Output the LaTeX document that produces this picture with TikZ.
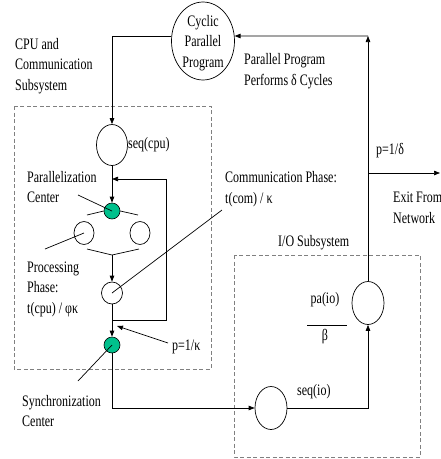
\documentclass[tikz,border=0pt]{standalone}
\usepackage{fontspec}
\setmainfont{Liberation Serif}[FakeStretch=0.75]
\usetikzlibrary{arrows.meta,shapes.geometric}
\definecolor{grn}{RGB}{0,192,140}
\begin{document}
\begin{tikzpicture}[x=1pt,y=-1pt,
  lbl/.style={font=\fontsize{16}{20.5}\selectfont, inner sep=0pt, align=left},
  stn/.style={draw, ellipse, inner sep=0pt, line width=0.7pt},
  ctr/.style={draw, circle, fill=grn, inner sep=0pt, minimum size=16pt, line width=0.6pt},
  arr/.style={line width=0.7pt, -{Triangle[length=6pt,width=4.5pt]}},
  ln/.style={line width=0.7pt},
  box/.style={draw=gray, line width=0.6pt, dash pattern=on 4pt off 2.5pt}]
\useasboundingbox (0,0) rectangle (441,459);
% subsystem boxes
\draw[box] (14,106) rectangle (211,369);
\draw[box] (234,255) rectangle (420,457);
% stations
\node[stn, minimum width=63pt, minimum height=78pt] (cyc) at (203,41) {};
\node[lbl, align=center] (cyct) at (203,43) {Cyclic\\Parallel\\Program};
\node[stn, minimum width=31pt, minimum height=41pt] (seq) at (112,145) {};
\node[ctr] (par) at (112,211) {};
\node[stn, minimum width=20pt, minimum height=23pt] (sL) at (84,233) {};
\node[stn, minimum width=20pt, minimum height=23pt] (sR) at (140,233) {};
\node[stn, minimum width=21pt, minimum height=22pt] (proc) at (112,293) {};
\node[ctr] (sync) at (112,345) {};
\node[stn, minimum width=32pt, minimum height=43pt] (seqio) at (271,408) {};
\node[stn, minimum width=32pt, minimum height=43pt] (paio) at (368,303) {};
% labels
\node[lbl, anchor=west] (cpuT) at (15,66) {CPU and\\Communication\\Subsystem};
\node[lbl, anchor=west] (ppT) at (244,71) {Parallel Program\\Performs δ Cycles};
\node[lbl, anchor=west] (seqT) at (128,145) {seq(cpu)};
\node[lbl, anchor=west] (parT) at (27,187) {Parallelization\\Center};
\node[lbl, anchor=west] (comT) at (225,189) {Communication Phase:\\t(com) / κ};
\node[lbl, anchor=west] (pdT) at (376,151) {p=1/δ};
\node[lbl, anchor=west] (exT) at (393,208) {Exit From\\Network};
\node[lbl, anchor=west] (ioT) at (278,243) {I/O Subsystem};
\node[lbl, anchor=west] (prT) at (27,289) {Processing\\Phase:\\t(cpu) / φκ};
\node[lbl, anchor=west] (pkT) at (172,347) {p=1/κ};
\node[lbl] (paT) at (325,300) {pa(io)};
\node[lbl] (beT) at (325,337) {β};
\node[lbl, anchor=west] (sqioT) at (297,392) {seq(io)};
\node[lbl, anchor=west] (syT) at (22,411) {Synchronization\\Center};
% coordinates
\coordinate (fbA) at (112,320);
\coordinate (fbR) at (166,179);
\coordinate (fbJ) at (112,179);
\coordinate (fkL) at (87,215);
\coordinate (fkR) at (138,215);
\coordinate (mL) at (87,249);
\coordinate (mC) at (112,255);
\coordinate (mR) at (139,249);
\coordinate (pkS) at (168,343);
\coordinate (pkE) at (117,326);
\coordinate (tr) at (368,36);
\coordinate (ex0) at (368,173);
\coordinate (ex1) at (440,173);
\coordinate (rL) at (307,325);
\coordinate (rR) at (347,325);
\coordinate (ptPC) at (78,195);
\coordinate (ptPP) at (45,249);
\coordinate (ptCP) at (222,210);
\coordinate (ptSC) at (78,381);
% connectors
\draw[arr] (cyc.171) -| (seq.north);
\draw[arr] (seq.south) -- (par.north);
\draw[arr] (fbA) -| (fbR) -- (fbJ);
\draw[ln] (par.west) -- (fkL);
\draw[ln] (par.east) -- (fkR);
\draw[ln] (mL) -- (mC) -- (mR);
\draw[arr] (mC) -- (proc.north);
\draw[arr] (proc.south) -- (sync.north);
\draw[arr] (pkS) -- (pkE);
\draw[arr] (sync.south) |- (seqio.west);
\draw[arr] (seqio.east) -| (paio.south);
\draw[arr] (paio.north) -- (tr);
\draw[arr] (tr) -- (cyc.9);
\draw[arr] (ex0) -- (ex1);
\draw[line width=0.5pt] (rL) -- (rR);
% pointer lines
\draw[ln] (ptPC) -- (par.center);
\draw[ln] (ptPP) -- (sL.center);
\draw[ln] (ptCP) -- (proc.center);
\draw[ln] (ptSC) -- (sync.center);
\end{tikzpicture}
\end{document}
